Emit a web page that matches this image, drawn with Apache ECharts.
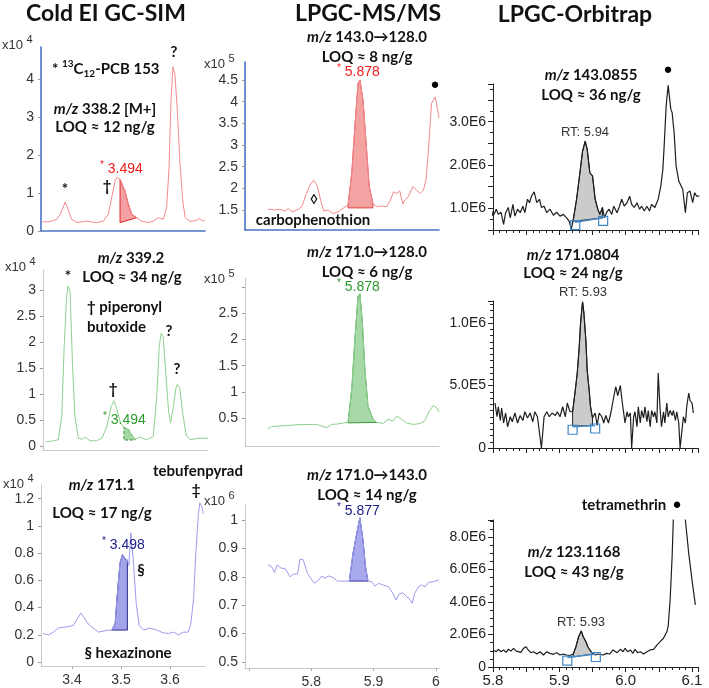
<!DOCTYPE html>
<html><head><meta charset="utf-8">
<script src="https://cdn.jsdelivr.net/npm/echarts@6/dist/echarts.min.js"></script>
<style>html,body{margin:0;padding:0;background:#fff}#c{width:709px;height:688px}</style>
</head><body><div id="c"></div>
<script>
// ---------------- DATA ----------------
// Cold EI GC-SIM, m/z 338.2 (x10^4)
const p1T = [3.339,3.355,3.369,3.376,3.386,3.392,3.399,3.410,3.430,3.450,3.464,3.474,3.481,3.488,3.492,3.498,3.508,3.515,3.522,3.532,3.542,3.556,3.566,3.576,3.586,3.593,3.598,3.602,3.606,3.610,3.615,3.620,3.626,3.631,3.641,3.654,3.661,3.666,3.671];
const p1V = [0.24,0.245,0.31,0.44,0.76,0.57,0.31,0.22,0.26,0.22,0.26,0.44,0.88,1.32,1.42,1.36,1.05,0.70,0.44,0.35,0.26,0.22,0.26,0.35,0.31,0.61,1.67,3.42,4.32,4.12,3.16,1.84,0.79,0.35,0.25,0.28,0.33,0.26,0.29];
// Cold EI GC-SIM, m/z 339.2 (x10^4)
const p2T = [3.346,3.362,3.372,3.379,3.384,3.389,3.392,3.396,3.401,3.406,3.413,3.420,3.427,3.437,3.450,3.461,3.471,3.480,3.486,3.492,3.499,3.506,3.515,3.522,3.529,3.539,3.552,3.566,3.573,3.578,3.582,3.586,3.591,3.597,3.601,3.607,3.612,3.615,3.620,3.626,3.633,3.641,3.658,3.678];
const p2V = [0.08,0.10,0.12,0.56,1.91,2.87,3.08,2.97,1.59,0.56,0.15,0.13,0.17,0.10,0.10,0.15,0.37,0.76,0.87,0.69,0.44,0.36,0.32,0.21,0.13,0.17,0.12,0.18,0.95,1.91,2.17,2.10,1.46,0.69,0.44,0.76,1.11,1.19,1.11,0.63,0.21,0.12,0.15,0.15];
// Cold EI GC-SIM, m/z 171.1 (x10^4)
const p3T = [3.341,3.352,3.362,3.372,3.382,3.392,3.403,3.411,3.418,3.424,3.433,3.443,3.454,3.467,3.481,3.488,3.492,3.498,3.503,3.508,3.513,3.516,3.520,3.525,3.531,3.537,3.546,3.559,3.573,3.586,3.597,3.607,3.617,3.627,3.637,3.642,3.648,3.653,3.658,3.661,3.665,3.668];
const p3V = [0.21,0.20,0.22,0.25,0.255,0.26,0.27,0.32,0.36,0.33,0.28,0.25,0.22,0.23,0.235,0.28,0.48,0.73,0.79,0.76,0.75,0.71,0.95,0.75,0.43,0.27,0.235,0.25,0.235,0.215,0.21,0.22,0.20,0.22,0.22,0.27,0.46,0.82,1.09,1.17,1.14,1.09];
// LPGC-MS/MS 143.0->128.0 (x10^5)
const p4T = [5.731,5.742,5.750,5.758,5.763,5.769,5.777,5.785,5.792,5.798,5.804,5.810,5.815,5.820,5.827,5.835,5.843,5.851,5.859,5.865,5.870,5.875,5.878,5.883,5.888,5.893,5.899,5.905,5.913,5.921,5.927,5.932,5.937,5.942,5.947,5.950,5.956,5.963,5.969,5.975,5.980,5.984,5.988,5.993,5.999,6.001,6.005];
const p4V = [1.52,1.50,1.52,1.48,1.54,1.46,1.50,1.58,1.88,2.08,2.19,2.04,1.73,1.48,1.50,1.42,1.46,1.54,1.62,2.35,3.42,4.42,4.50,4.04,3.04,2.04,1.65,1.58,1.59,1.58,1.73,1.92,1.88,1.94,1.64,1.73,1.81,2.04,1.96,1.88,1.96,2.19,2.88,3.96,4.11,3.96,3.62];
// LPGC-MS/MS 171.0->128.0 (x10^5)
const p5T = [5.730,5.736,5.747,5.761,5.777,5.793,5.809,5.817,5.825,5.833,5.843,5.852,5.859,5.865,5.870,5.875,5.878,5.882,5.886,5.891,5.899,5.905,5.916,5.923,5.926,5.931,5.937,5.945,5.953,5.964,5.975,5.983,5.989,5.996,6.001,6.005];
const p5V = [0.29,0.34,0.35,0.36,0.375,0.38,0.38,0.35,0.32,0.38,0.39,0.41,0.42,1.05,2.0,2.82,2.87,2.32,1.43,0.73,0.48,0.42,0.40,0.48,0.51,0.44,0.54,0.48,0.41,0.38,0.40,0.46,0.63,0.74,0.70,0.62];
// LPGC-MS/MS 171.0->143.0 (x10^6)
const p6T = [5.730,5.736,5.741,5.745,5.752,5.758,5.766,5.772,5.778,5.782,5.787,5.794,5.799,5.805,5.810,5.817,5.822,5.827,5.835,5.842,5.851,5.861,5.867,5.874,5.878,5.883,5.887,5.891,5.897,5.902,5.908,5.916,5.924,5.931,5.936,5.941,5.947,5.953,5.957,5.962,5.966,5.972,5.977,5.983,5.988,5.996,6.005];
const p6V = [0.842,0.836,0.815,0.842,0.83,0.83,0.80,0.81,0.81,0.863,0.86,0.812,0.795,0.777,0.785,0.803,0.795,0.803,0.798,0.785,0.785,0.785,0.883,0.965,1.008,0.93,0.836,0.785,0.783,0.768,0.777,0.771,0.765,0.742,0.718,0.739,0.744,0.73,0.724,0.707,0.742,0.765,0.771,0.765,0.78,0.783,0.789];
// LPGC-Orbitrap m/z 143.0855 (millions)
const p7T = [5.798,5.800,5.805,5.808,5.812,5.816,5.819,5.823,5.826,5.830,5.833,5.837,5.841,5.845,5.848,5.852,5.855,5.858,5.862,5.866,5.870,5.873,5.877,5.881,5.886,5.891,5.896,5.901,5.906,5.911,5.915,5.918,5.921,5.926,5.931,5.935,5.939,5.942,5.946,5.950,5.954,5.958,5.961,5.965,5.968,5.971,5.975,5.979,5.982,5.987,5.990,5.994,5.998,6.002,6.006,6.009,6.013,6.017,6.021,6.024,6.028,6.032,6.036,6.039,6.044,6.049,6.053,6.056,6.058,6.061,6.064,6.066,6.068,6.070,6.073,6.076,6.080,6.083,6.086,6.090,6.091,6.093,6.097,6.101,6.104,6.107,6.111];
const p7V = [0.94,0.82,0.98,0.86,0.91,0.63,0.90,1.02,0.78,1.09,0.82,0.98,0.90,1.05,0.90,1.21,1.13,1.28,1.38,1.13,1.21,1.02,1.05,0.90,0.98,0.84,0.91,0.82,0.86,0.78,0.70,0.51,0.74,1.21,1.82,2.32,2.55,2.36,1.82,1.75,1.21,0.98,0.86,1.02,0.78,0.90,0.98,0.86,1.05,0.90,1.02,1.21,1.05,1.13,1.28,1.09,1.02,1.13,0.98,1.05,0.94,1.05,0.94,1.09,1.02,1.21,1.52,1.90,2.44,3.36,3.84,3.81,3.29,3.21,2.75,1.98,1.63,1.59,1.44,0.90,0.94,1.36,1.40,1.13,1.36,1.28,1.28];
// LPGC-Orbitrap m/z 171.0804 (millions)
const p8T = [5.803,5.806,5.808,5.811,5.813,5.816,5.819,5.822,5.826,5.829,5.833,5.837,5.841,5.845,5.848,5.852,5.856,5.860,5.863,5.867,5.870,5.873,5.877,5.881,5.885,5.889,5.894,5.897,5.901,5.905,5.909,5.912,5.916,5.920,5.924,5.927,5.930,5.932,5.935,5.937,5.940,5.942,5.945,5.947,5.950,5.954,5.957,5.960,5.964,5.967,5.970,5.974,5.978,5.981,5.985,5.988,5.992,5.994,5.997,5.999,6.002,6.004,6.007,6.009,6.012,6.014,6.017,6.019,6.022,6.024,6.027,6.029,6.032,6.034,6.037,6.039,6.042,6.044,6.047,6.049,6.052,6.054,6.057,6.059,6.062,6.064,6.067,6.070,6.072,6.075,6.077,6.080,6.082,6.085,6.087,6.090,6.092,6.095,6.097,6.100,6.102];
const p8V = [0.36,0.25,0.33,0.22,0.32,0.20,0.28,0.17,0.25,0.21,0.28,0.20,0.26,0.22,0.29,0.24,0.28,0.21,0.29,0.25,0.25,0,0.25,0.29,0.25,0.28,0.26,0.29,0.25,0.33,0.25,0.36,0.29,0.29,0.46,0.60,0.81,1.00,1.17,1.08,0.86,0.62,0.46,0.33,0.24,0.28,0.18,0.28,0.25,0.20,0.26,0.20,0.29,0.38,0.49,0.42,0.50,0.40,0.40,0.20,0.29,0.25,0.28,0,0.25,0.29,0.17,0.33,0.20,0.30,0.24,0.33,0.21,0.30,0.17,0.30,0.25,0.29,0.20,0.60,0.30,0.17,0.29,0.20,0.36,0.25,0.30,0.26,0.30,0.22,0.29,0.20,0,0,0.25,0.20,0.33,0.44,0.38,0.36,0.28];
// LPGC-Orbitrap m/z 123.1168 (millions)
const p9T = [5.800,5.805,5.808,5.812,5.816,5.820,5.823,5.827,5.831,5.835,5.838,5.842,5.846,5.850,5.853,5.857,5.861,5.866,5.871,5.876,5.881,5.886,5.891,5.896,5.901,5.906,5.911,5.916,5.921,5.925,5.929,5.933,5.936,5.940,5.943,5.946,5.950,5.954,5.958,5.961,5.966,5.971,5.976,5.981,5.987,5.992,5.996,5.999,6.003,6.007,6.011,6.014,6.018,6.022,6.027,6.032,6.037,6.042,6.047,6.052,6.057,6.062,6.064,6.067,6.070,6.072,6.079,6.090,6.095,6.100,6.105];
const p9V = [1.05,0.94,1.09,0.94,1.05,0.90,1.09,0.98,1.15,0.98,1.09,0.90,1.15,1.25,1.05,0.88,0.94,0.80,0.94,0.74,0.94,0.84,0.78,0.88,0.74,0.80,0.74,0.70,0.80,1.25,1.86,2.22,1.86,1.56,1.25,1.05,0.84,0.74,0.80,0.88,0.74,0.84,0.80,1.05,0.88,1.09,0.94,1.15,0.94,1.05,0.84,1.09,0.88,0.94,0.80,0.94,1.05,1.09,1.35,1.56,1.77,2.17,2.48,4.12,6.79,9.3,14,9.05,7.0,5.35,3.82];

// integrated peak regions [start, end] and baselines [start, end]
const p1Shade = [3.498, 3.532], p1Base = [0.22, 0.35];
const p2Shade = [3.506, 3.529], p2Base = [0.115, 0.115];
const p3Shade = [3.481, 3.513], p3Base = [0.235, 0.235];
const p4Shade = [5.859, 5.899], p4Base = [1.55, 1.55];
const p5Shade = [5.859, 5.905], p5Base = [0.41, 0.42];
const p6Shade = [5.861, 5.891], p6Base = [0.785, 0.785];
const p7Shade = [5.921, 5.965], p7Base = [0.70, 0.78];
const p8Shade = [5.920, 5.950], p8Base = [0.175, 0.18];
const p9Shade = [5.921, 5.950], p9Base = [0.62, 0.80];
// Orbitrap baseline markers
const p7SqT = [5.924, 5.966], p7SqV = [0.68, 0.78];
const p8SqT = [5.920, 5.954], p8SqV = [0.17, 0.18];
const p9SqT = [5.912, 5.955], p9SqV = [0.58, 0.80];

// tick labels
const p1Y = [0,1,2,3,4];
const p2Y = [0,0.5,1,1.5,2,2.5,3];
const p3Y = [0,0.2,0.4,0.6,0.8,1,1.2];
const p3X = [3.4,3.5,3.6];
const p4Y = [1.5,2,2.5,3,3.5,4,4.5];
const p5Y = [0.5,1,1.5,2,2.5];
const p5YTicks = [0.5,1,1.5,2,2.5,3];
const p6Y = [0.5,0.6,0.7,0.8,0.9,1];
const p6X = [5.8,5.9,6];
const p6XTicks = [5.7,5.8,5.9,6.0];
const p7Y = [1,2,3];
const p8Y = [0,0.5,1];
const p9Y = [0,2,4,6,8];
const orbX = [5.8,5.9,6.0,6.1];

// ---------------- CHART ----------------
const zip = (T, V) => T.map((t, i) => [t, V[i]]);
const AXF = '"Liberation Sans", Arial, sans-serif';
const BF = 'Lato, "Open Sans", sans-serif';
const BLUE_AX = '#4a74c4', GRAY_AX = '#c9c9c9';

const grids = [
  {left:41, top:47, width:164, height:184},
  {left:43, top:270, width:165, height:180},
  {left:41, top:485, width:164, height:181},
  {left:245, top:62, width:194, height:168},
  {left:245, top:278, width:194, height:168},
  {left:245, top:505, width:194, height:163},
  {left:493, top:84, width:205, height:146},
  {left:493, top:301, width:205, height:147},
  {left:493, top:520, width:205, height:147}
].map(g => Object.assign({outerBoundsMode:'none', containLabel:false}, g));

function simpleX(gi, min, max, color, width, labels, ticks) {
  const a = {type:'value', gridIndex:gi, min, max, splitLine:{show:false},
    axisLine:{show:true, onZero:false, lineStyle:{color, width}},
    axisTick:{show:false}, axisLabel:{show:false}};
  if (labels) {
    a.axisTick = {show:true, customValues:ticks, length:3, lineStyle:{color:'#aaa'}};
    a.axisLabel = {show:true, customValues:labels, formatter:v => String(v), margin:7,
      fontFamily:AXF, fontSize:14, color:'#333'};
  }
  return a;
}
function simpleY(gi, min, max, color, width, labels, ticks) {
  return {type:'value', gridIndex:gi, min, max, splitLine:{show:false},
    axisLine:{show:true, onZero:false, lineStyle:{color, width}},
    axisTick:{show:true, customValues:ticks || labels, length:3, lineStyle:{color:'#999'}},
    axisLabel:{show:true, customValues:labels, formatter:v => String(v), margin:7,
      fontFamily:AXF, fontSize:14, color:'#333'}};
}
function orbX_(gi, show) {
  return {type:'value', gridIndex:gi, min:5.8, max:6.109, interval:0.05, splitLine:{show:false},
    axisLine:{show:true, onZero:false, lineStyle:{color:'#222', width:1}},
    axisTick:{show:true, length:5, lineStyle:{color:'#222'}},
    minorTick:{show:true, splitNumber:5, length:3, lineStyle:{color:'#222'}},
    axisLabel:{show:show, customValues:orbX, formatter:v => v.toFixed(1), margin:6,
      fontFamily:AXF, fontSize:15, color:'#222'}};
}
function orbY(gi, min, max, interval, split, labels, fmt) {
  return {type:'value', gridIndex:gi, min, max, interval, splitLine:{show:false},
    axisLine:{show:true, onZero:false, lineStyle:{color:'#222', width:1}},
    axisTick:{show:true, length:5, lineStyle:{color:'#222'}},
    minorTick:{show:true, splitNumber:split, length:3, lineStyle:{color:'#222'}},
    axisLabel:{show:true, customValues:labels, formatter:fmt, margin:7,
      fontFamily:AXF, fontSize:14, color:'#222'}};
}

const xAxis = [
  simpleX(0, 3.3367, 3.6714, BLUE_AX, 1.6),
  simpleX(1, 3.3408, 3.6776, GRAY_AX, 1),
  simpleX(2, 3.3367, 3.6714, GRAY_AX, 1, p3X, p3X),
  simpleX(3, 5.6936, 6.005, BLUE_AX, 1.6),
  simpleX(4, 5.6936, 6.005, GRAY_AX, 1),
  simpleX(5, 5.6936, 6.005, GRAY_AX, 1, p6X, p6XTicks),
  orbX_(6, false), orbX_(7, false), orbX_(8, true)
];
const yAxis = [
  simpleY(0, 0, 4.84, BLUE_AX, 1.6, p1Y),
  simpleY(1, -0.077, 3.385, GRAY_AX, 1, p2Y),
  simpleY(2, -0.029, 1.301, GRAY_AX, 1, p3Y),
  simpleY(3, 1.04, 4.915, BLUE_AX, 1.6, p4Y),
  simpleY(4, -0.03, 3.17, GRAY_AX, 1, p5Y, p5YTicks),
  simpleY(5, 0.479, 1.053, GRAY_AX, 1, p6Y),
  orbY(6, 0.5, 3.87, 0.5, 2, p7Y, v => v.toFixed(1) + 'E6'),
  orbY(7, 0, 1.176, 0.5, 10, p8Y, v => v === 0 ? '0' : (v < 1 ? (v * 10).toFixed(1) + 'E5' : v.toFixed(1) + 'E6')),
  orbY(8, 0, 9.05, 2, 4, p9Y, v => v === 0 ? '0' : v.toFixed(1) + 'E6')
];

function trace(gi, T, V, color, width) {
  return {type:'line', xAxisIndex:gi, yAxisIndex:gi, data:zip(T, V), symbol:'none', showSymbol:false,
    silent:true, z:3, lineStyle:{color, width}, animation:false};
}
function shade(gi, T, V, range, base, fill, stroke, dash) {
  return {type:'custom', xAxisIndex:gi, yAxisIndex:gi, silent:true, z:2, animation:false,
    data:[[range[0], base[0]]],
    renderItem:(params, api) => {
      const pts = [];
      T.forEach((t, i) => { if (t >= range[0] - 1e-9 && t <= range[1] + 1e-9) pts.push(api.coord([t, V[i]])); });
      pts.push(api.coord([range[1], base[1]]));
      pts.push(api.coord([range[0], base[0]]));
      return {type:'polygon', shape:{points:pts},
        style:{fill, stroke, lineWidth:1, lineDash: dash ? [3, 2] : null}};
    }};
}
function squares(gi, T, V) {
  return {type:'line', xAxisIndex:gi, yAxisIndex:gi, data:zip(T, V), symbol:'rect', symbolSize:9,
    symbolOffset:[0, 3], showSymbol:true, silent:true, z:4, animation:false,
    itemStyle:{color:'rgba(255,255,255,0)', borderColor:'#3f86c6', borderWidth:1.2},
    lineStyle:{color:'#4a8cc8', width:1.5}};
}

const RED = '#f4898b', GRN = '#8fd08f', BLU = '#9c9cf0';
const series = [
  shade(0, p1T, p1V, p1Shade, p1Base, '#f5a0a2', '#e0282e', false),
  trace(0, p1T, p1V, RED, 1),
  shade(1, p2T, p2V, p2Shade, p2Base, '#a3d7a3', '#2f8f2f', true),
  trace(1, p2T, p2V, GRN, 1),
  shade(2, p3T, p3V, p3Shade, p3Base, '#a3a3ea', '#2b2b8c', false),
  trace(2, p3T, p3V, BLU, 1),
  shade(3, p4T, p4V, p4Shade, p4Base, '#f4a3a3', '#e04848', false),
  trace(3, p4T, p4V, RED, 1),
  shade(4, p5T, p5V, p5Shade, p5Base, '#a7d8a7', '#3e9a3e', false),
  trace(4, p5T, p5V, GRN, 1),
  shade(5, p6T, p6V, p6Shade, p6Base, '#a9a9ee', '#34349a', false),
  trace(5, p6T, p6V, BLU, 1),
  shade(6, p7T, p7V, p7Shade, p7Base, '#cbcbcb', '#222', false),
  trace(6, p7T, p7V, '#1e1e1e', 1.2),
  squares(6, p7SqT, p7SqV),
  shade(7, p8T, p8V, p8Shade, p8Base, '#cbcbcb', '#222', false),
  trace(7, p8T, p8V, '#1e1e1e', 1.2),
  squares(7, p8SqT, p8SqV),
  shade(8, p9T, p9V, p9Shade, p9Base, '#cbcbcb', '#222', false),
  trace(8, p9T, p9V, '#1e1e1e', 1.2),
  squares(8, p9SqT, p9SqV)
];

// ---------------- TEXT ----------------
function T(x, y, text, o) {
  const st = Object.assign({text, font:'bold 15px ' + BF, fill:'#111', align:'center', verticalAlign:'middle',
    textAlign:'center', textVerticalAlign:'middle'}, o || {});
  if (o && o.align) st.textAlign = o.align;
  return {type:'text', x, y, silent:true, z:100, style:st};
}
const ital = {i:{fontStyle:'italic', fontWeight:'bold', fontSize:15, fontFamily:BF}};
const expo = (x, y, e) => T(x, y, '{a|x10} {s|' + e + '}', {font:'13px ' + AXF, fill:'#333', align:'left',
  lineHeight:18, rich:{a:{fontSize:13, fontFamily:AXF, verticalAlign:'bottom', lineHeight:18},
  s:{fontSize:11, fontFamily:AXF, verticalAlign:'top'}}});
const rt = (x, y, text, color) => T(x, y, '{s|*} ' + text, {font:'14px ' + AXF, fill:color, align:'left',
  lineHeight:18, rich:{s:{fontSize:10, fontFamily:AXF, fill:color, verticalAlign:'top'}}});
const DOT = {font:'15px ' + AXF, fill:'#000'};

const texts = [
  T(106, 14, 'Cold EI GC-SIM', {font:'bold 23px ' + BF}),
  T(368, 14, 'LPGC-MS/MS', {font:'bold 23px ' + BF}),
  T(575, 15, 'LPGC-Orbitrap', {font:'bold 23px ' + BF}),
  // P1
  expo(2, 43, '4'),
  T(52, 69, '* {sup|13}C{sub|12}-PCB 153', {align:'left', lineHeight:20,
    rich:{sup:{fontSize:10, fontWeight:'bold', fontFamily:BF, verticalAlign:'top'},
          sub:{fontSize:10, fontWeight:'bold', fontFamily:BF, verticalAlign:'bottom'}}}),
  T(105, 109, '{i|m/z} 338.2 [M+]', {rich:ital}),
  T(105, 127, 'LOQ ≈ 12 ng/g'),
  rt(100, 169, '3.494', '#f21c1c'),
  T(65, 189, '*'),
  T(107, 186, '†'),
  T(174, 52, '?'),
  // P2
  expo(5, 265, '4'),
  T(131, 258, '{i|m/z} 339.2', {rich:ital}),
  T(132, 277, 'LOQ ≈ 34 ng/g'),
  T(68, 276, '*'),
  T(87, 307, '† piperonyl', {align:'left'}),
  T(87, 327, 'butoxide', {align:'left'}),
  T(169, 331, '?'),
  T(177, 369, '?'),
  T(113, 389, '†'),
  rt(103, 420, '3.494', '#2d9a2d'),
  // P3
  expo(3, 482, '4'),
  T(102, 485, '{i|m/z} 171.1', {rich:ital}),
  T(102, 513, 'LOQ ≈ 17 ng/g'),
  T(198, 471, 'tebufenpyrad'),
  T(196, 490, '‡'),
  rt(102, 545, '3.498', '#20208a'),
  T(141, 570, '§'),
  T(128, 653, '§ hexazinone'),
  // P4
  expo(204, 62, '5'),
  T(367, 37, '{i|m/z} 143.0→128.0', {rich:ital}),
  T(367, 57, 'LOQ ≈ 8 ng/g'),
  rt(337, 72, '5.878', '#f21c1c'),
  T(435, 85, '●', DOT),
  T(314, 200, '◊', {font:'bold 14px ' + AXF}),
  T(313, 220, 'carbophenothion'),
  // P5
  expo(204, 277, '5'),
  T(367, 252, '{i|m/z} 171.0→128.0', {rich:ital}),
  T(367, 272, 'LOQ ≈ 6 ng/g'),
  rt(337, 287, '5.878', '#2d9a2d'),
  // P6
  expo(204, 499, '6'),
  T(367, 475, '{i|m/z} 171.0→143.0', {rich:ital}),
  T(367, 495, 'LOQ ≈ 14 ng/g'),
  rt(337, 511, '5.877', '#20208a'),
  // P7
  T(591, 75, '{i|m/z} 143.0855', {rich:ital}),
  T(591, 95, 'LOQ ≈ 36 ng/g'),
  T(668, 70, '●', DOT),
  T(585, 132, 'RT: 5.94', {font:'13px ' + AXF, fill:'#333'}),
  // P8
  T(573, 255, '{i|m/z} 171.0804', {rich:ital}),
  T(573, 273, 'LOQ ≈ 24 ng/g'),
  T(583, 292, 'RT: 5.93', {font:'13px ' + AXF, fill:'#333'}),
  // P9
  T(624, 505, 'tetramethrin'),
  T(677, 505, '●', DOT),
  T(574, 552, '{i|m/z} 123.1168', {rich:ital}),
  T(574, 572, 'LOQ ≈ 43 ng/g'),
  T(581, 622, 'RT: 5.93', {font:'13px ' + AXF, fill:'#333'})
];

const chart = echarts.init(document.getElementById('c'), null, {renderer:'canvas'});
chart.setOption({
  animation:false, backgroundColor:'#fff',
  grid:grids, xAxis, yAxis, series,
  graphic:{elements:texts}
});
</script></body></html>
